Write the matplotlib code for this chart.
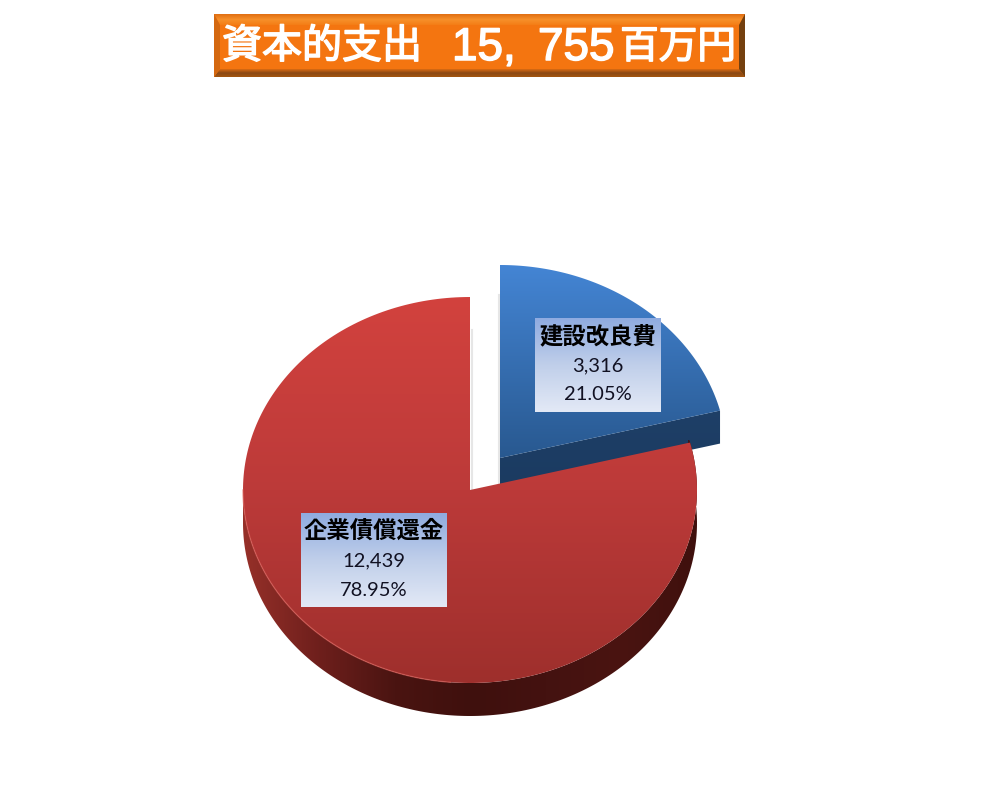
import numpy as np
import matplotlib
matplotlib.use("Agg")
import matplotlib.pyplot as plt
import matplotlib.patheffects as pe
from matplotlib.colors import LinearSegmentedColormap
from matplotlib.patches import Polygon, Rectangle

plt.rcParams['font.family'] = ['Noto Sans CJK JP', 'DejaVu Sans']

# Data
title_head = "資本的支出"
title_total = ["15,", "755"]
title_unit = "百万円"
categories = ["建設改良費", "企業債償還金"]
amounts = [3316, 12439]
percents = ["21.05%", "78.95%"]

# Pie geometry in pixels
RX, RY, DEPTH = 227, 193, 33
RED_C = (470, 490)
BLUE_C = (500, 458)


def rim(c, t0, t1, dy=0):
    """ Points on the ellipse between two angles (degrees) """
    t = np.radians(np.linspace(t0, t1, 240))
    return np.column_stack([c[0] + RX * np.cos(t), c[1] - RY * np.sin(t) + dy])


def gradient(ax, pts, c_list, box, vertical=True):
    """ Fill a polygon with a linear gradient """
    cmap = LinearSegmentedColormap.from_list("g", c_list)
    g = np.linspace(0, 1, 256)
    g = g.reshape(-1, 1) if vertical else g.reshape(1, -1)
    im = ax.imshow(g, cmap=cmap, extent=(box[0], box[1], box[3], box[2]),
                   origin="upper", aspect="auto", interpolation="bilinear", zorder=ax.zo)
    im.set_clip_path(Polygon(pts, closed=True, transform=ax.transData))
    ax.zo += 1


fig = plt.figure(figsize=(10, 7.86), dpi=100)
ax = fig.add_axes([0, 0, 1, 1])
ax.zo = 1

# Slice angles come from the amounts (blue starts at 12 o'clock going clockwise)
split = 90 - 360 * amounts[0] / sum(amounts)

# Faint shadows next to the cut edges
ax.plot([471.5, 471.5], [330, 490], color="#e6e6e6", lw=1.5, zorder=0)
ax.plot([498.7, 498.7], [295, 485], color="#e6e6e6", lw=1.5, zorder=0)

# Blue slice, pulled out
cut = rim(BLUE_C, split, split)[0]
wall = [BLUE_C, cut, cut + [0, DEPTH], (BLUE_C[0], BLUE_C[1] + DEPTH)]
gradient(ax, wall, ["#1f4068", "#1a3a60"], (495, 730, 400, 500))
top = np.vstack([[BLUE_C], rim(BLUE_C, split, 90)])
gradient(ax, top, ["#4485d4", "#28588f"], (495, 725, 265, 460))

# Red slice
side = np.vstack([rim(RED_C, 180, 376), rim(RED_C, 376, 180, DEPTH)])
gradient(ax, side, ["#963029", "#6e1f1c", "#4a1411", "#3f100d", "#441210", "#4a1411", "#3f100d"],
         (243, 698, 440, 720), vertical=False)
top = np.vstack([[RED_C], rim(RED_C, split + 360, 90)])
gradient(ax, top, ["#d2423e", "#bc3a39", "#9e2f2c"], (240, 700, 297, 684))
ax.plot(*rim(RED_C, 180, 265).T, color="#dc5e58", lw=1, alpha=0.6, zorder=ax.zo)
ax.zo += 1

# Data labels
label_box = [(535, 661, 318, 412), (301, 447, 513, 607)]
for name, amount, pct, (x0, x1, y0, y1) in zip(categories, amounts, percents, label_box):
    box = [(x0, y0), (x1, y0), (x1, y1), (x0, y1)]
    gradient(ax, box, ["#8fabe0", "#c0cfea", "#e3e9f6"], (x0, x1, y0, y1))
    xm = (x0 + x1) / 2
    ax.text(xm, y0 + 18, name, fontsize=16.8, fontweight="bold", color="black",
            ha="center", va="center", zorder=50)
    ax.text(xm, y0 + 48, f"{amount:,}", fontsize=14.5, color="#111122", family="Lato",
            ha="center", va="center", zorder=50)
    ax.text(xm, y0 + 77, pct, fontsize=14.5, color="#111122", family="Lato",
            ha="center", va="center", zorder=50)

# Title plate with bevel
L, R, T, B, BV = 214, 745, 14, 77, 6
ax.add_patch(Rectangle((L, T), R - L, B - T, color="#f47510", lw=0, zorder=60))
ax.zo = 61
gradient(ax, [(L, T), (R, T), (R - BV, T + 11), (L + BV, T + 11)],
         ["#e06e12", "#f7902a", "#f47d16"], (L, R, T, T + 11))
gradient(ax, [(L, B), (R, B), (R - BV, B - 8), (L + BV, B - 8)],
         ["#dc6c12", "#8a4815", "#a5560f"], (L, R, B - 8, B))
ax.add_patch(Polygon([(L, T), (L + BV, T + 11), (L + BV, B - 8), (L, B)], color="#d46810", lw=0, zorder=63))
ax.add_patch(Polygon([(R, T), (R - BV, T + 11), (R - BV, B - 8), (R, B)], color="#74400f", lw=0, zorder=63))
heavy = [pe.withStroke(linewidth=1.1, foreground="white")]
ax.text(222, 47, title_head, fontsize=28.8, color="white", ha="left", va="center", zorder=70,
        path_effects=heavy)
ax.text(452, 48, title_total[0], fontsize=33, color="white", family="Liberation Sans",
        ha="left", va="center", zorder=70, path_effects=heavy)
ax.text(538, 48, title_total[1], fontsize=33, color="white", family="Liberation Sans",
        ha="left", va="center", zorder=70, path_effects=heavy)
ax.text(736, 47, title_unit, fontsize=27.8, color="white", ha="right", va="center", zorder=70,
        path_effects=heavy)

ax.set_xlim(0, 1000)
ax.set_ylim(786, 0)
ax.axis("off")
fig.savefig("out.png", dpi=100, facecolor="white")
